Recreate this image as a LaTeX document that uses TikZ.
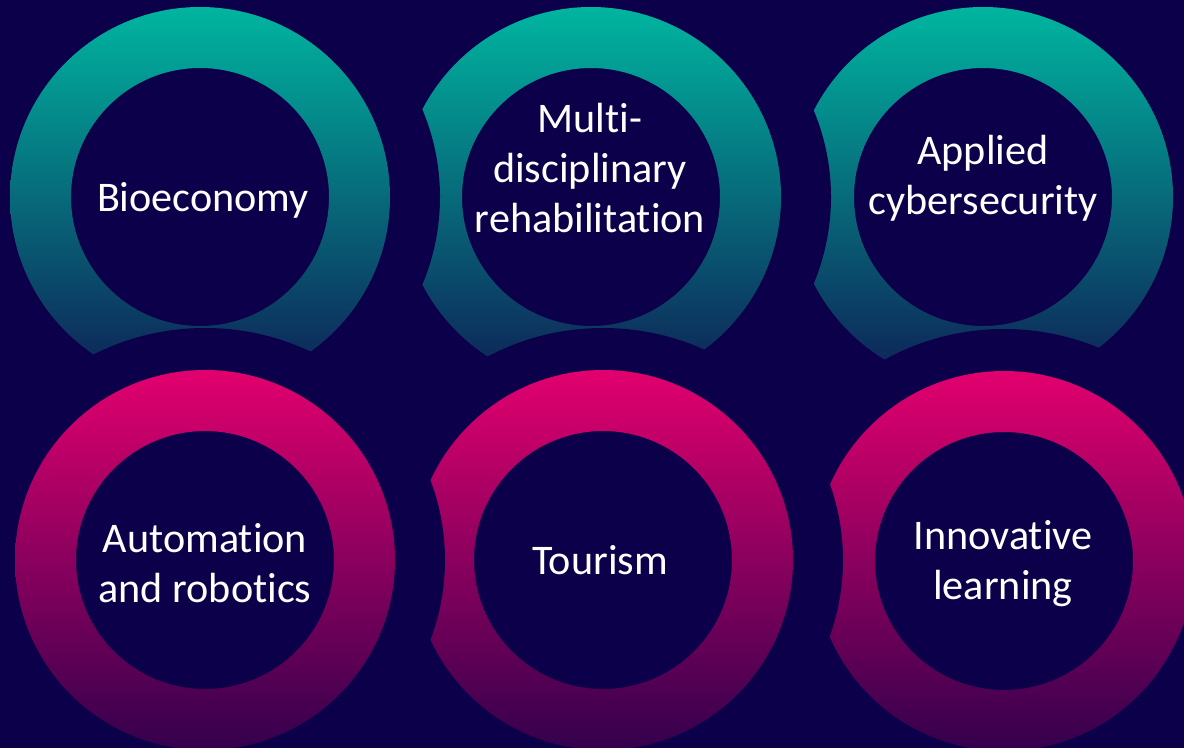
\documentclass[tikz,border=0pt]{standalone}
\usepackage{fontspec}
\setmainfont[Ligatures=NoCommon]{Carlito}
\usepackage{tikz}

\definecolor{bg}{HTML}{0D004A}
\definecolor{tealtop}{HTML}{00B5A0}
\definecolor{tealmid}{HTML}{0A8C85}
\definecolor{tealbot}{HTML}{0E1F55}
\definecolor{pinktop}{HTML}{E2006E}
\definecolor{pinkmid}{HTML}{A6005F}
\definecolor{pinkbot}{HTML}{33004D}

\begin{document}
\begin{tikzpicture}[
  gap/.style={fill=bg, x radius=4.8, y radius=4.64},
  tealring/.style={top color=tealtop, middle color=tealmid, bottom color=tealbot, even odd rule},
  pinkring/.style={top color=pinktop, middle color=pinkmid, bottom color=pinkbot, even odd rule},
  label/.style={text=white, align=center, font=\fontsize{24}{28.5}\selectfont}]
\useasboundingbox (0,0) rectangle (23.68,14.94);
\clip (0,0) rectangle (23.68,14.94);
\fill[bg] (-1,-1) rectangle (25,16);

% top row, right to left
\fill[gap] (19.66,11) ellipse [];
\shade[tealring] (19.66,11) circle (3.8) (19.66,11) circle (2.58);
\fill[gap] (11.82,11) ellipse [];
\shade[tealring] (11.82,11) circle (3.8) (11.82,11) circle (2.58);
\fill[gap] (4,11) ellipse [];
\shade[tealring] (4,11) circle (3.8) (4,11) circle (2.58);

% bottom row, right to left
\fill[gap] (20.08,3.72) ellipse [];
\shade[pinkring] (20.08,3.72) circle (3.8) (20.08,3.72) circle (2.58);
\fill[gap] (12.06,3.74) ellipse [];
\shade[pinkring] (12.06,3.74) circle (3.8) (12.06,3.74) circle (2.58);
\fill[gap] (4.1,3.74) ellipse [];
\shade[pinkring] (4.1,3.74) circle (3.8) (4.1,3.74) circle (2.58);

\node[label] (bio) at (4.06,10.94) {Bioeconomy};
\node[label] (rehab) at (11.8,11.58) {Multi-\\disciplinary\\rehabilitation};
\node[label] (cyber) at (19.66,11.37) {Applied\\cybersecurity};
\node[label] (robot) at (4.1,3.68) {Automation\\and robotics};
\node[label] (tour) at (12,3.74) {Tourism};
\node[label] (learn) at (20.06,3.66) {Innovative\\learning};
\end{tikzpicture}
\end{document}
